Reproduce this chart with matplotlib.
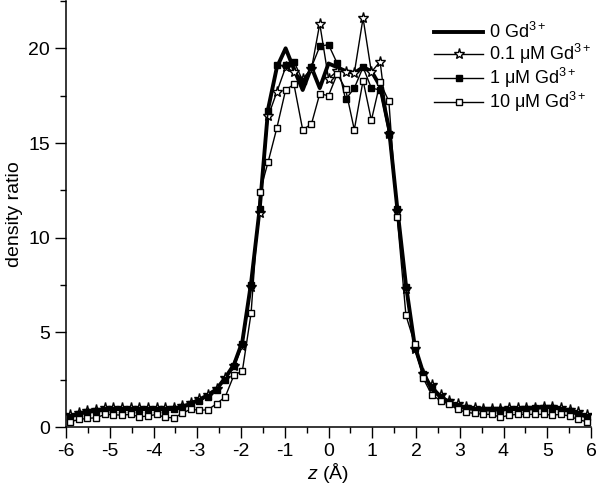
import matplotlib
matplotlib.use("Agg")
import matplotlib.pyplot as plt
from matplotlib.ticker import MultipleLocator

plt.rcParams['font.family'] = ['Liberation Sans', 'DejaVu Sans']
plt.rcParams['mathtext.fontset'] = 'custom'
plt.rcParams['mathtext.rm'] = 'Liberation Sans'
plt.rcParams['mathtext.it'] = 'Liberation Sans:italic'
plt.rcParams['axes.unicode_minus'] = False

# z positions (Å)
z = [-5.90, -5.70, -5.51, -5.31, -5.11, -4.92, -4.72, -4.52, -4.33, -4.13,
     -3.93, -3.74, -3.54, -3.34, -3.15, -2.95, -2.75, -2.56, -2.36, -2.16,
     -1.97, -1.77, -1.57, -1.38, -1.18, -0.98, -0.79, -0.59, -0.39, -0.20,
     0.00,
     0.20, 0.39, 0.59, 0.79, 0.98, 1.18, 1.38, 1.57, 1.77, 1.97,
     2.16, 2.36, 2.56, 2.75, 2.95, 3.15, 3.34, 3.54, 3.74, 3.93,
     4.13, 4.33, 4.52, 4.72, 4.92, 5.11, 5.31, 5.51, 5.70, 5.90]

# density ratio, 0 Gd3+
gd_0 = [0.55, 0.70, 0.80, 0.85, 0.92, 0.95, 0.95, 0.95, 0.95, 0.95,
        0.95, 0.95, 0.95, 1.05, 1.25, 1.45, 1.70, 2.00, 2.60, 3.30,
        4.50, 7.60, 11.6, 16.8, 19.0, 20.0, 18.9, 17.8, 19.0, 17.9,
        19.2,
        19.0, 18.8, 18.7, 19.0, 18.8, 18.0, 15.8, 11.6, 7.5, 4.3,
        2.9, 2.0, 1.6, 1.3, 1.1, 1.0, 0.95, 0.92, 0.92, 0.92,
        0.95, 0.95, 0.95, 1.0, 1.05, 1.05, 0.95, 0.85, 0.70, 0.55]

# 0.1 uM Gd3+
gd_01 = [0.65, 0.75, 0.85, 0.90, 1.00, 1.00, 1.00, 1.00, 1.00, 1.00,
         1.00, 1.00, 1.00, 1.10, 1.28, 1.46, 1.69, 2.00, 2.57, 3.20,
         4.30, 7.40, 11.3, 16.4, 17.7, 19.0, 18.75, 18.4, 18.9, 21.3,
         18.4,
         18.8, 18.75, 18.7, 21.6, 18.75, 19.3, 15.5, 11.4, 7.3, 4.1,
         2.8, 2.2, 1.7, 1.4, 1.2, 1.05, 1.0, 0.95, 0.95, 0.95,
         1.0, 1.0, 1.0, 1.0, 1.05, 1.05, 1.0, 0.9, 0.8, 0.65]

# 1 uM Gd3+
gd_1 = [0.55, 0.70, 0.80, 0.85, 0.90, 0.92, 0.92, 0.92, 0.92, 0.92,
        0.92, 0.92, 0.95, 1.05, 1.20, 1.40, 1.60, 1.95, 2.50, 3.20,
        4.40, 7.50, 11.5, 16.7, 19.1, 19.1, 19.3, 18.3, 19.0, 20.1,
        20.2,
        19.2, 17.3, 17.9, 19.0, 17.9, 17.8, 15.5, 11.5, 7.4, 4.2,
        2.8, 2.1, 1.6, 1.3, 1.1, 1.0, 0.92, 0.90, 0.90, 0.90,
        0.92, 0.92, 0.95, 1.0, 1.0, 1.0, 0.92, 0.85, 0.70, 0.55]

# 10 uM Gd3+
gd_10 = [0.28, 0.40, 0.46, 0.49, 0.67, 0.65, 0.63, 0.67, 0.54, 0.58,
         0.67, 0.51, 0.49, 0.72, 0.95, 0.88, 0.92, 1.23, 1.60, 2.75,
         2.95, 6.0, 12.4, 14.0, 15.8, 17.8, 18.1, 15.7, 16.0, 17.6,
         17.5,
         18.65, 17.85, 15.7, 18.3, 16.2, 18.2, 17.2, 11.1, 5.9, 4.4,
         2.6, 1.7, 1.4, 1.21, 0.93, 0.78, 0.72, 0.67, 0.67, 0.51,
         0.63, 0.67, 0.67, 0.67, 0.67, 0.63, 0.67, 0.58, 0.40, 0.28]

fig = plt.figure(figsize=(6.0, 4.92), dpi=100)
ax = fig.add_axes([0.11, 0.132, 0.875, 0.866])

ax.plot(z, gd_0, color='black', lw=2.8, label='0 Gd$^{3+}$', zorder=3)
ax.plot(z, gd_01, color='black', lw=1.0, marker='*', ms=8, mfc='white',
        mec='black', mew=1.0, label='0.1 μM Gd$^{3+}$', zorder=4)
ax.plot(z, gd_1, color='black', lw=1.0, marker='s', ms=5, mfc='black',
        mec='black', label='1 μM Gd$^{3+}$', zorder=5)
ax.plot(z, gd_10, color='black', lw=1.0, marker='s', ms=5, mfc='white',
        mec='black', mew=1.0, label='10 μM Gd$^{3+}$', zorder=6)

ax.set_xlim(-6, 6)
ax.set_ylim(0, 22.5)
ax.xaxis.set_major_locator(MultipleLocator(1))
ax.xaxis.set_minor_locator(MultipleLocator(0.5))
ax.yaxis.set_major_locator(MultipleLocator(5))
ax.yaxis.set_minor_locator(MultipleLocator(2.5))
ax.tick_params(which='major', direction='out', length=8, width=1.0, labelsize=14)
ax.tick_params(which='minor', direction='out', length=4.5, width=1.0)
for side in ['top', 'right']:
    ax.spines[side].set_visible(False)
for side in ['left', 'bottom']:
    ax.spines[side].set_linewidth(1.1)

ax.set_xlabel('$z$ (Å)', fontsize=14, labelpad=1)
ax.set_ylabel('density ratio', fontsize=14, labelpad=4)

ax.legend(loc='upper left', bbox_to_anchor=(0.688, 0.968), frameon=False,
          fontsize=13, handlelength=2.7, handletextpad=0.3, labelspacing=0.0,
          borderaxespad=0)

fig.savefig('out.png', dpi=100)
